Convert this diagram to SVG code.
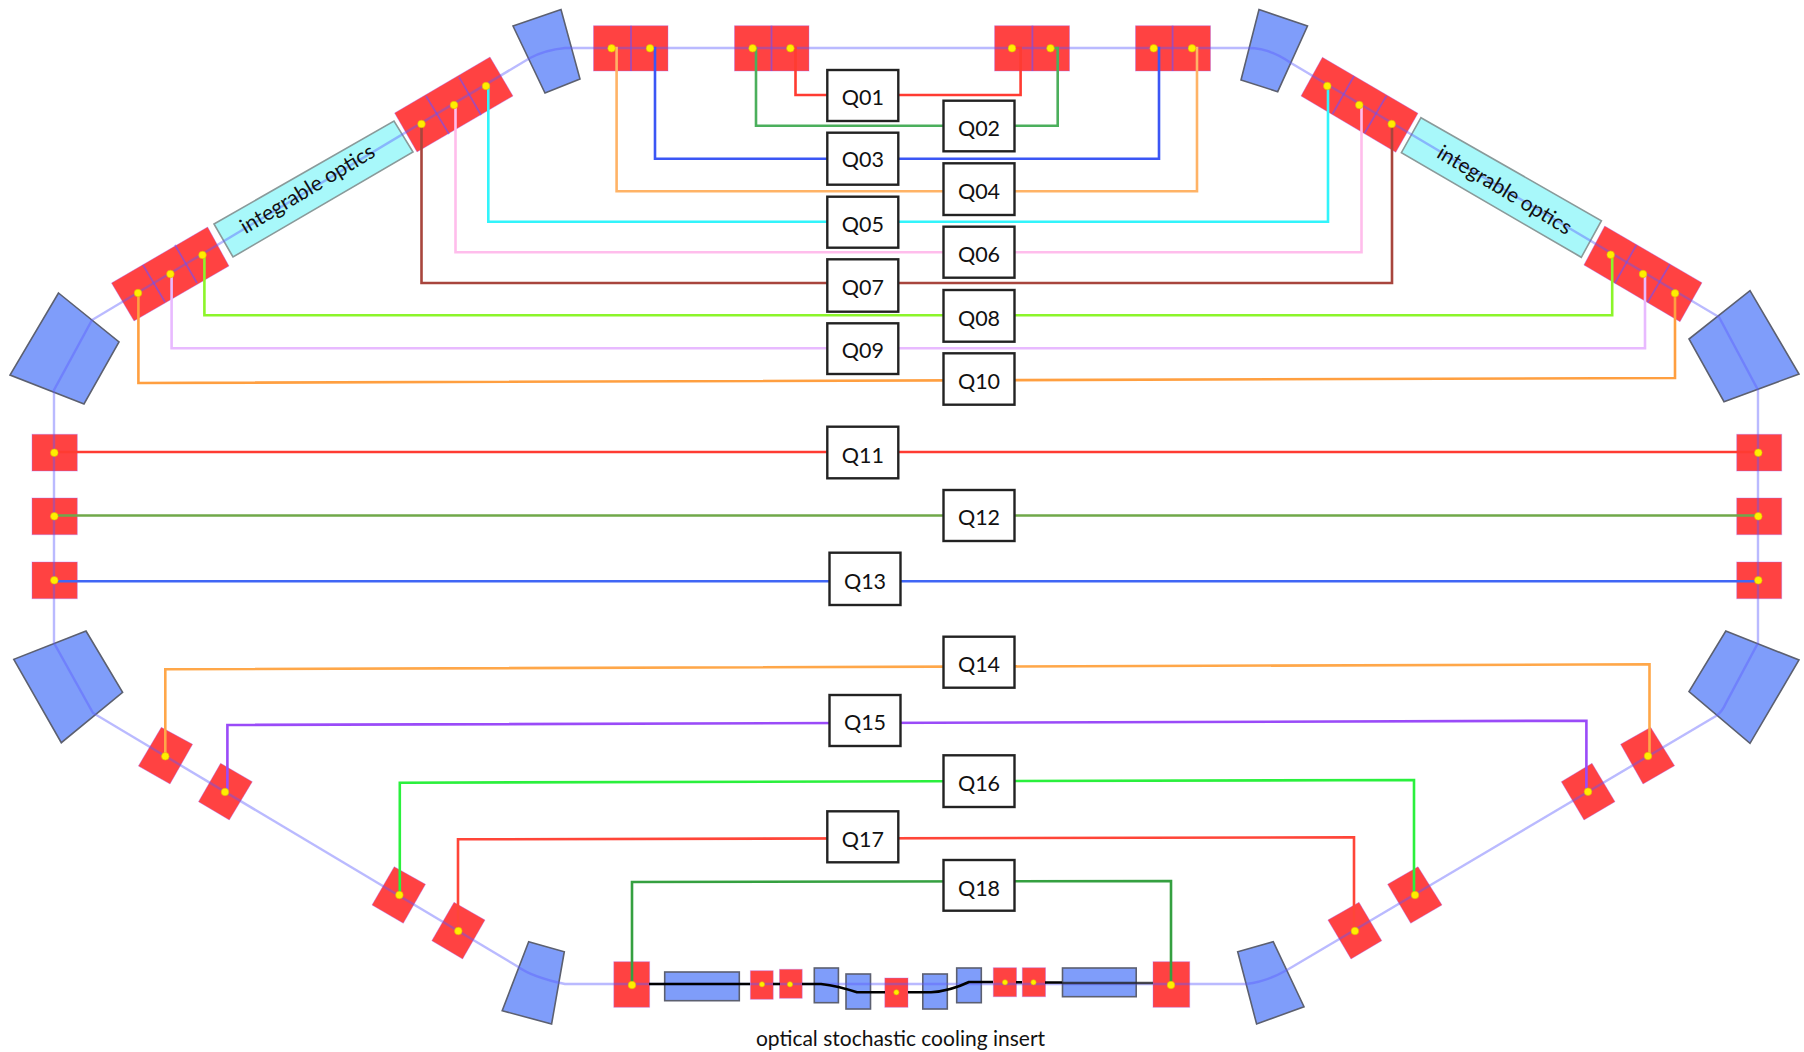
<svg xmlns="http://www.w3.org/2000/svg" width="1804" height="1052" viewBox="0 0 1804 1052">
<defs>
<filter id="soft" filterUnits="userSpaceOnUse" x="0" y="0" width="1804" height="1052"><feGaussianBlur stdDeviation="0.6"/></filter>
</defs>
<style>
.q{fill:#ff4343;stroke:#a060ff;stroke-opacity:.35;stroke-width:1}
.b{fill:#7f9dfa;stroke:#5c6070;stroke-width:1.6}
.i{fill:#a8f8fa;stroke:#8a9a9a;stroke-width:1.6}
.beam{fill:none;stroke:#5a5aff;stroke-opacity:.42;stroke-width:2.4}
.div{fill:none;stroke:#6a50ff;stroke-opacity:.6;stroke-width:1.8}
.c{fill:none;stroke-width:2.6}
.box rect{fill:#fff;stroke:#222;stroke-width:2.4;filter:url(#soft)}
.box text{font-family:"Lato","Noto Sans",sans-serif;font-size:21.5px;fill:#111;text-anchor:middle}
.lbl{font-family:"Lato","Noto Sans",sans-serif;font-size:21px;fill:#111;text-anchor:middle}
.d{fill:#ffee00;stroke:#e0b000;stroke-width:.6}
</style>
<rect width="1804" height="1052" fill="#fff"/>
<g filter="url(#soft)">
<g id="elements">
<g id="bend-top-left"><polygon class="b" points="513,26 561,9.5 580,79 545,93"/></g>
<g id="bend-top-right"><polygon class="b" points="1259,9.5 1307.5,26 1277.7,91.7 1241,80"/></g>
<g id="bend-upper-left"><polygon class="b" points="58.5,293 119,342 84,404 10,375"/></g>
<g id="bend-upper-right"><polygon class="b" points="1750,290.7 1799,374 1724,401.7 1689,339"/></g>
<g id="bend-lower-left"><polygon class="b" points="86,631 122.6,692.3 61.3,742.7 13.8,659.3"/></g>
<g id="bend-lower-right"><polygon class="b" points="1725.8,631 1799,660 1750,743.3 1689,691.7"/></g>
<g id="bend-bottom-left"><polygon class="b" points="528.7,941.7 564.3,951.7 551.6,1024 502.2,1010.7"/></g>
<g id="bend-bottom-right"><polygon class="b" points="1273.2,941.7 1304,1006.7 1256.6,1024 1237.7,951.7"/></g>

<g id="integrable-left"><polygon class="i" points="214,224 394,121 413,152 233,257"/></g>
<g id="integrable-right"><polygon class="i" points="1421,117.7 1601.4,220.7 1581.3,257.3 1401.4,152.7"/></g>

<g id="quad-ul1"><polygon class="q" points="111.5,283 207.6,227 229,266 134,321"/><path class="div" d="M143,265L165,302M175,245L197,283"/></g>
<g id="quad-ul2"><polygon class="q" points="394.6,113 490,57 513,96 417,152"/><path class="div" d="M426,96L449,134M459,77L481,115"/></g>
<g id="quad-ur1"><polygon class="q" points="1322.4,57.3 1418,113.3 1395.8,152.3 1301,96"/><path class="div" d="M1354,76L1332.5,114M1386.5,95.7L1364.5,133.3"/></g>
<g id="quad-ur2"><polygon class="q" points="1604.7,226 1702,282.7 1680,321.7 1583.9,265"/><path class="div" d="M1636.4,245L1614.8,283.3M1669.9,264.3L1647.6,302.3"/></g>
<g id="quad-t1"><rect class="q" x="593.5" y="25.7" width="74.5" height="45.3"/><path class="div" d="M631,25.7V71"/></g>
<g id="quad-t2"><rect class="q" x="734.5" y="25.7" width="74.5" height="45.3"/><path class="div" d="M771.5,25.7V71"/></g>
<g id="quad-t3"><rect class="q" x="994.6" y="25.7" width="74.9" height="45.3"/><path class="div" d="M1032.4,25.7V71"/></g>
<g id="quad-t4"><rect class="q" x="1135.5" y="25.7" width="75" height="45.3"/><path class="div" d="M1172.6,25.7V71"/></g>

<g id="quad-l11"><rect class="q" x="32" y="434.3" width="45.3" height="36.7"/></g>
<g id="quad-l12"><rect class="q" x="32" y="498" width="45.3" height="36.7"/></g>
<g id="quad-l13"><rect class="q" x="32" y="562" width="45.3" height="36.7"/></g>
<g id="quad-r11"><rect class="q" x="1736.7" y="434.3" width="45" height="36.7"/></g>
<g id="quad-r12"><rect class="q" x="1736.7" y="498" width="45" height="36.7"/></g>
<g id="quad-r13"><rect class="q" x="1736.7" y="562" width="45" height="36.7"/></g>

<g id="quad-ll1"><polygon class="q" points="161.3,727.3 192.6,744.3 170,784 138.4,766"/></g>
<g id="quad-ll2"><polygon class="q" points="220.6,763.3 252.3,781.7 229.3,820 198.5,801.7"/></g>
<g id="quad-ll3"><polygon class="q" points="394.2,866.7 425.5,884.3 403.3,923.3 372,905"/></g>
<g id="quad-ll4"><polygon class="q" points="454,902.3 485,920 462.6,959 431.8,940.7"/></g>
<g id="quad-lr1"><polygon class="q" points="1650.7,727.3 1674.6,765.7 1643,784 1620.6,744.3"/></g>
<g id="quad-lr2"><polygon class="q" points="1592,763.3 1615,801.7 1584,820 1561.3,781.7"/></g>
<g id="quad-lr3"><polygon class="q" points="1418,866.7 1442,905 1410.7,923.3 1387.6,884.3"/></g>
<g id="quad-lr4"><polygon class="q" points="1359,902.3 1381.8,940.7 1351,959 1327.9,920"/></g>

<g id="osc-insert">
<rect class="q" x="613.8" y="961.7" width="35.8" height="45.6"/>
<rect class="b" x="664.7" y="972" width="74.6" height="28.7"/>
<rect class="q" x="750.4" y="970.7" width="22.8" height="28.6"/>
<rect class="q" x="779.5" y="969.3" width="22.7" height="29"/>
<rect class="b" x="814.3" y="968" width="24.1" height="34.7"/>
<rect class="b" x="846" y="974" width="24.5" height="35"/>
<rect class="q" x="884.8" y="978" width="23.2" height="29.3"/>
<rect class="b" x="922.8" y="974" width="24.5" height="35"/>
<rect class="b" x="956.7" y="968" width="24.6" height="34.7"/>
<rect class="q" x="993.3" y="967.7" width="23.2" height="29"/>
<rect class="q" x="1022.3" y="967.7" width="23.2" height="29"/>
<rect class="b" x="1062.5" y="968" width="73.7" height="28.7"/>
<rect class="q" x="1153" y="961.7" width="36.7" height="45.6"/>
</g>
</g>

<g id="connectors">
<path id="beam" class="beam" d="M54,390V643L93,713L518,966.7Q532,977 565,984H1246Q1266,982 1287,970L1716,716Q1722,712 1726,703L1758,643V390L1719,317L1291,63Q1270,48 1248,48H565Q545,50 530,58L92,320Z"/>
<path id="osc-line" class="c" stroke="#000" d="M649,984H750M773,984H780M802,984H821Q838,986 857,992.3H885M908,992.3H931Q950,991 969,982H993M1016,982.3H1022M1045,982.5H1062"/>
<path class="c" stroke="#222" stroke-opacity=".8" d="M1062,983H1153"/>
<path class="c" stroke="#ff3b30" d="M790.4,48H795.5V95H1020.6V48H1012"/>
<path class="c" stroke="#4caf5c" d="M752.6,48H756V125.7H1057.7V48H1050.5"/>
<path class="c" stroke="#3b57f5" d="M650,48H655V158.7H1159V48H1153.7"/>
<path class="c" stroke="#ffb366" d="M611.6,48H616.6V191.3H1197V48H1192"/>
<path class="c" stroke="#30f4fb" d="M486,86H488.3V221.7H1328V86"/>
<path class="c" stroke="#ffbdec" d="M454,105H455.5V252.3H1361.5V105"/>
<path class="c" stroke="#a8453c" d="M421.5,124V283H1392V124"/>
<path class="c" stroke="#8cf52a" d="M202.5,255H204.4V315.3H1612.2V254.7"/>
<path class="c" stroke="#e8baff" d="M170.4,274H171.6V348.3H1645V274"/>
<path class="c" stroke="#ff9f40" d="M138.4,293V383L1675,378V293.3"/>
<path class="c" stroke="#ff3b30" d="M54,452H1758"/>
<path class="c" stroke="#6fa84a" d="M54,515.5H1758"/>
<path class="c" stroke="#3f66f5" d="M54,581.3H1758"/>
<path class="c" stroke="#ffa748" d="M165.3,756V669.3L1649.5,664.3V756"/>
<path class="c" stroke="#9a4cf8" d="M225,792H227.4V725L1586.4,720.7V791.7"/>
<path class="c" stroke="#2cf03c" d="M399.8,895V782.7L1414,780V895"/>
<path class="c" stroke="#ff4538" d="M458,931V839.3L1354,837.3V931"/>
<path class="c" stroke="#35a040" d="M632,985V882L1171,881V985"/>
</g>

<g id="markers">
<circle class="d" cx="138" cy="293" r="3.8"/><circle class="d" cx="170.4" cy="274" r="3.8"/><circle class="d" cx="202.5" cy="255" r="3.8"/>
<circle class="d" cx="421.5" cy="124" r="3.8"/><circle class="d" cx="454" cy="105" r="3.8"/><circle class="d" cx="486" cy="86" r="3.8"/>
<circle class="d" cx="611.6" cy="48.3" r="3.8"/><circle class="d" cx="650" cy="48.3" r="3.8"/><circle class="d" cx="752.6" cy="48.3" r="3.8"/><circle class="d" cx="790.4" cy="48.3" r="3.8"/>
<circle class="d" cx="1012" cy="48.3" r="3.8"/><circle class="d" cx="1050.5" cy="48.3" r="3.8"/><circle class="d" cx="1153.7" cy="48.3" r="3.8"/><circle class="d" cx="1192" cy="48.3" r="3.8"/>
<circle class="d" cx="1327.3" cy="86" r="3.8"/><circle class="d" cx="1359.3" cy="105" r="3.8"/><circle class="d" cx="1391.7" cy="124" r="3.8"/>
<circle class="d" cx="1610.7" cy="254.7" r="3.8"/><circle class="d" cx="1643" cy="274" r="3.8"/><circle class="d" cx="1675" cy="293.3" r="3.8"/>
<circle class="d" cx="54.3" cy="452.7" r="3.8"/><circle class="d" cx="54.3" cy="516.3" r="3.8"/><circle class="d" cx="54.3" cy="580.3" r="3.8"/>
<circle class="d" cx="1758.3" cy="452.7" r="3.8"/><circle class="d" cx="1758.3" cy="516.3" r="3.8"/><circle class="d" cx="1758.3" cy="580.3" r="3.8"/>
<circle class="d" cx="165.3" cy="756.3" r="3.8"/><circle class="d" cx="225" cy="792" r="3.8"/><circle class="d" cx="399.4" cy="895" r="3.8"/><circle class="d" cx="458.3" cy="931" r="3.8"/>
<circle class="d" cx="1648" cy="756" r="3.8"/><circle class="d" cx="1588" cy="791.7" r="3.8"/><circle class="d" cx="1415" cy="895" r="3.8"/><circle class="d" cx="1354.9" cy="931" r="3.8"/>
<circle class="d" cx="632" cy="985" r="3.8"/><circle class="d" cx="1171" cy="985" r="3.8"/>
<circle class="d" cx="762" cy="984.3" r="2.6"/><circle class="d" cx="790" cy="984.3" r="2.6"/><circle class="d" cx="896.4" cy="992.3" r="2.6"/><circle class="d" cx="1005" cy="982.3" r="2.6"/><circle class="d" cx="1033.5" cy="982.3" r="2.6"/>
</g>
</g>

<g id="Q01" class="box"><rect x="827.3" y="70" width="71" height="51"/><text x="862.8" y="105">Q01</text></g>
<g id="Q02" class="box"><rect x="943.5" y="100.7" width="71" height="50.6"/><text x="979" y="136">Q02</text></g>
<g id="Q03" class="box"><rect x="827.3" y="132.7" width="71" height="52"/><text x="862.8" y="167">Q03</text></g>
<g id="Q04" class="box"><rect x="943.5" y="163.3" width="71" height="51.7"/><text x="979" y="199">Q04</text></g>
<g id="Q05" class="box"><rect x="827.3" y="196.7" width="71" height="51"/><text x="862.8" y="232">Q05</text></g>
<g id="Q06" class="box"><rect x="943.5" y="226.7" width="71" height="51"/><text x="979" y="262">Q06</text></g>
<g id="Q07" class="box"><rect x="827.3" y="259.3" width="71" height="52.4"/><text x="862.8" y="295">Q07</text></g>
<g id="Q08" class="box"><rect x="943.5" y="290" width="71" height="51.7"/><text x="979" y="326">Q08</text></g>
<g id="Q09" class="box"><rect x="827.3" y="323.3" width="71" height="50.7"/><text x="862.8" y="358">Q09</text></g>
<g id="Q10" class="box"><rect x="943.5" y="353.3" width="71" height="51.4"/><text x="979" y="389">Q10</text></g>
<g id="Q11" class="box"><rect x="827.3" y="426.7" width="71" height="51.6"/><text x="862.8" y="463">Q11</text></g>
<g id="Q12" class="box"><rect x="943.5" y="490" width="71" height="51"/><text x="979" y="525">Q12</text></g>
<g id="Q13" class="box"><rect x="829.5" y="552.7" width="71" height="52.3"/><text x="865" y="589">Q13</text></g>
<g id="Q14" class="box"><rect x="943.5" y="636.7" width="71" height="51"/><text x="979" y="672">Q14</text></g>
<g id="Q15" class="box"><rect x="829.5" y="695" width="71" height="51"/><text x="865" y="730">Q15</text></g>
<g id="Q16" class="box"><rect x="943.5" y="755.3" width="71" height="51.7"/><text x="979" y="791">Q16</text></g>
<g id="Q17" class="box"><rect x="827.3" y="811.3" width="71" height="51"/><text x="862.8" y="847">Q17</text></g>
<g id="Q18" class="box"><rect x="943.5" y="860" width="71" height="50.7"/><text x="979" y="895.5">Q18</text></g>

<g id="labels">
<text class="lbl" transform="translate(311,195) rotate(-31)">integrable optics</text>
<text class="lbl" transform="translate(1501,196) rotate(31)">integrable optics</text>
<text class="lbl" x="900.5" y="1046">optical stochastic cooling insert</text>
</g>
</svg>
